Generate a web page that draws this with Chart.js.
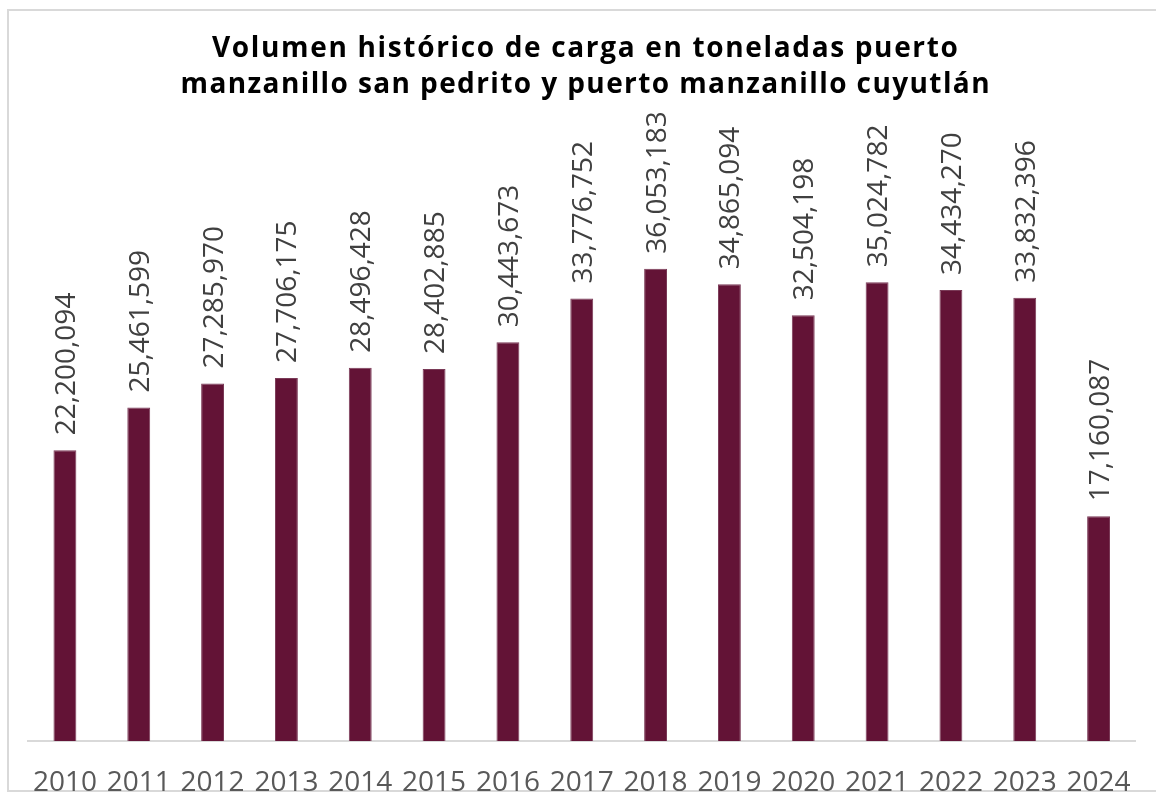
<!DOCTYPE html>
<html>
<head>
<meta charset="utf-8">
<script src="https://cdn.jsdelivr.net/npm/chart.js@4.4.0/dist/chart.umd.min.js"></script>
<style>
  html, body { margin: 0; padding: 0; background: #ffffff; overflow: hidden; }
  #wrap { position: relative; width: 1156px; height: 796px; }
  #frame { position: absolute; left: 7px; top: 9px; width: 1200px; height: 783px;
           border: 2px solid #d9d9d9; box-sizing: border-box; }
  #chart { position: absolute; left: 0; top: 0; }
</style>
</head>
<body>
<div id="wrap">
  <div id="frame"></div>
  <canvas id="chart" width="1156" height="796"></canvas>
</div>
<script>
const titleLines = [
  'Volumen histórico de carga en toneladas puerto',
  'manzanillo san pedrito y puerto manzanillo cuyutlán'
];
const years = ['2010','2011','2012','2013','2014','2015','2016','2017','2018','2019','2020','2021','2022','2023','2024'];
const toneladas = [22200094, 25461599, 27285970, 27706175, 28496428, 28402885, 30443673, 33776752, 36053183, 34865094, 32504198, 35024782, 34434270, 33832396, 17160087];

const barColor = '#631336';
const labelFont = '28px "Open Sans"';
const titleFont = 'bold 28px "Open Sans"';
const titleWidths = [746, 809];
const titleBaselines = [57, 93];
const titleCenterX = 585;

const titleDraw = {
  id: 'titleDraw',
  afterDraw(chart) {
    const ctx = chart.ctx;
    ctx.save();
    ctx.font = titleFont;
    ctx.fillStyle = '#000000';
    ctx.textAlign = 'left';
    ctx.textBaseline = 'alphabetic';
    titleLines.forEach((line, i) => {
      ctx.letterSpacing = '0px';
      const w0 = ctx.measureText(line).width;
      const n = [...line].length;
      const ls = (titleWidths[i] - w0) / (n - 1);
      ctx.letterSpacing = ls.toFixed(2) + 'px';
      ctx.fillText(line, titleCenterX - titleWidths[i] / 2, titleBaselines[i]);
    });
    ctx.restore();
  }
};

const valueLabels = {
  id: 'valueLabels',
  afterDatasetsDraw(chart) {
    const ctx = chart.ctx;
    const meta = chart.getDatasetMeta(0);
    ctx.save();
    ctx.font = labelFont;
    ctx.fillStyle = '#404040';
    ctx.textAlign = 'left';
    ctx.textBaseline = 'middle';
    meta.data.forEach((bar, i) => {
      const txt = toneladas[i].toLocaleString('en-US');
      ctx.save();
      ctx.translate(bar.x + 2, bar.y - 15);
      ctx.rotate(-Math.PI / 2);
      ctx.fillText(txt, 0, 0);
      ctx.restore();
    });
    ctx.restore();
  }
};

new Chart(document.getElementById('chart'), {
  type: 'bar',
  data: {
    labels: years,
    datasets: [{
      data: toneladas,
      backgroundColor: barColor,
      borderColor: '#7a3a57',
      borderWidth: 1,
      barPercentage: 0.62,
      categoryPercentage: 0.5
    }]
  },
  options: {
    responsive: false,
    animation: false,
    devicePixelRatio: 1,
    layout: { padding: { left: 28, right: 12, top: 217, bottom: 0 } },
    plugins: {
      legend: { display: false },
      tooltip: { enabled: false },
      title: { display: false }
    },
    scales: {
      x: {
        grid: { display: false, drawTicks: false },
        border: { display: true, color: '#d9d9d9', width: 2 },
        ticks: { color: '#595959', font: { family: '"Open Sans"', size: 28 }, padding: 25, maxRotation: 0, autoSkip: false },
        afterFit(scale) { scale.height = 55; }
      },
      y: {
        display: false,
        min: 0,
        max: 40000000
      }
    }
  },
  plugins: [valueLabels, titleDraw]
});
</script>
</body>
</html>
